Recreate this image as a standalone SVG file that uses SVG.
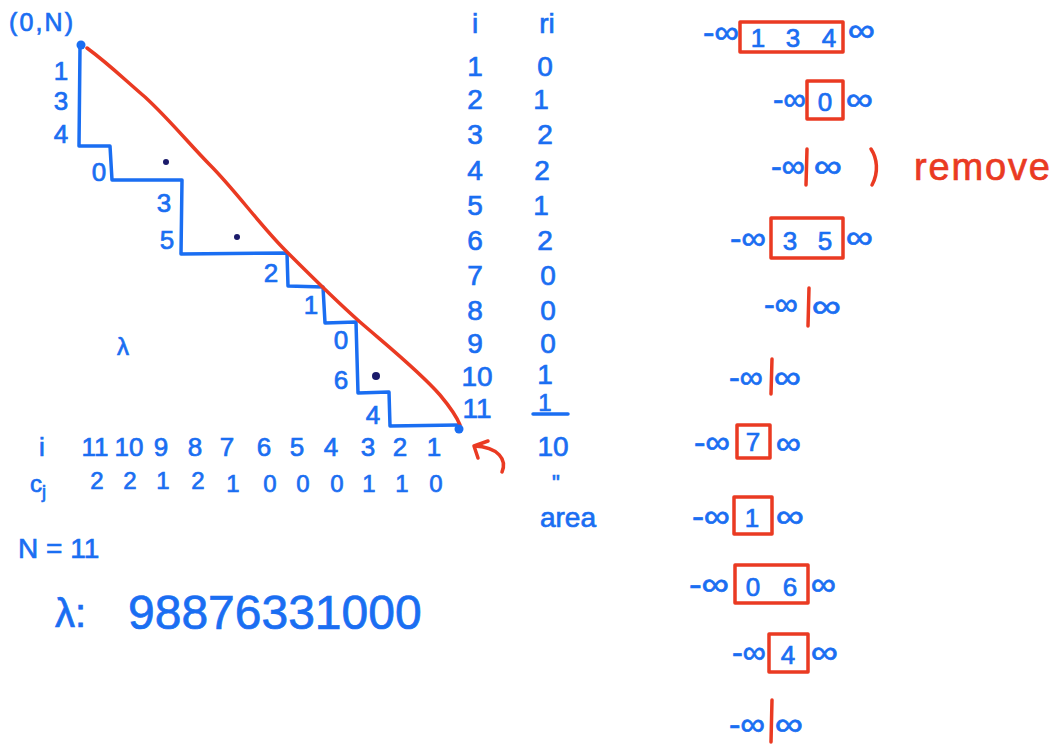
<svg xmlns="http://www.w3.org/2000/svg" width="1056" height="744" viewBox="0 0 1056 744">
<style>
.b{fill:#1a6ef2;stroke:#1a6ef2;stroke-width:0.7;font-family:"Liberation Sans","DejaVu Sans",sans-serif;}
.r{fill:#ea3a22;stroke:#ea3a22;stroke-width:0.7;font-family:"Liberation Sans","DejaVu Sans",sans-serif;}
.m{text-anchor:middle;}
.s{fill:none;stroke:#1a6ef2;stroke-width:3.5;stroke-linecap:round;stroke-linejoin:round;}
.rs{fill:none;stroke:#ea3a22;stroke-width:3.5;stroke-linecap:round;stroke-linejoin:round;}
.f28{font-size:28px;}
.f26{font-size:26px;}
.f24{font-size:24px;}
.inf{font-size:32px;}
</style>
<rect width="1056" height="744" fill="#ffffff"/>

<g id="connectors">
  <path id="staircase" class="s" d="M80 47 L79 146 L110 146 L112 180 L182 180 L181 254 L287 253 L288 286 L323 287 L325 323 L356 322 L358 393 L389 392 L390 426 L458 425"/>
  <path id="diagonal" class="rs" d="M87 48 C110 65 125 80 145 97 C170 120 190 145 210 165 C235 190 260 225 285 250 C310 275 335 300 360 322 C390 348 420 372 440 395 C450 407 456 415 460 425"/>
  <path id="return-arrow" class="rs" d="M502 472 C507 460 499 447 474 446 M474 446 L488 441 M474 446 L478 458"/>
</g>

<g id="corner-points">
  <circle cx="81" cy="45" r="4.5" fill="#1a6ef2"/>
  <circle cx="459" cy="429" r="4.5" fill="#1a6ef2"/>
  <text class="b" font-size="25" x="9" y="31" textLength="64">(0,N)</text>
</g>

<g id="staircase-labels" class="b f26 m">
  <text x="61" y="80">1</text>
  <text x="61" y="110">3</text>
  <text x="61" y="143">4</text>
  <text x="99" y="181">0</text>
  <text x="164" y="212">3</text>
  <text x="167" y="249">5</text>
  <text x="271" y="282">2</text>
  <text x="311" y="314">1</text>
  <text x="341" y="349">0</text>
  <text x="341" y="389">6</text>
  <text x="373" y="424">4</text>
</g>

<g id="dots" fill="#1b1b6b">
  <circle cx="166" cy="162" r="3"/>
  <circle cx="237" cy="237" r="3"/>
  <circle cx="376" cy="376" r="4"/>
</g>

<g id="lambda-mark">
  <text class="b f24" x="117" y="355">λ</text>
</g>

<g id="i-column" class="b f28 m">
  <text x="475" y="33">i</text>
  <text x="475" y="76">1</text>
  <text x="475" y="109">2</text>
  <text x="475" y="144">3</text>
  <text x="475" y="180">4</text>
  <text x="475" y="215">5</text>
  <text x="475" y="250">6</text>
  <text x="475" y="285">7</text>
  <text x="475" y="320">8</text>
  <text x="475" y="353">9</text>
  <text x="477" y="386">10</text>
  <text x="477" y="418">11</text>
</g>

<g id="ri-column" class="b f28 m">
  <text x="547" y="33">ri</text>
  <text x="545" y="76">0</text>
  <text x="541" y="109">1</text>
  <text x="545" y="144">2</text>
  <text x="542" y="180">2</text>
  <text x="541" y="215">1</text>
  <text x="545" y="250">2</text>
  <text x="548" y="285">0</text>
  <text x="548" y="320">0</text>
  <text x="548" y="353">0</text>
  <text x="545" y="384">1</text>
  <text x="545" y="411" font-size="24">1</text>
  <line x1="533" y1="414" x2="568" y2="414" class="s"/>
  <text x="553" y="456">10</text>
  <text x="556" y="490" font-size="22">"</text>
  <text x="568" y="527">area</text>
</g>

<g id="i-row" class="b f26 m">
  <text x="42" y="456">i</text>
  <text x="95" y="456">11</text>
  <text x="129" y="456">10</text>
  <text x="161" y="456">9</text>
  <text x="195" y="456">8</text>
  <text x="227" y="456">7</text>
  <text x="264" y="456">6</text>
  <text x="297" y="456">5</text>
  <text x="331" y="456">4</text>
  <text x="368" y="456">3</text>
  <text x="400" y="456">2</text>
  <text x="434" y="456">1</text>
</g>

<g id="cj-row" class="b f24 m">
  <text x="38" y="492">c<tspan font-size="18" dy="6">j</tspan></text>
  <text x="97" y="489">2</text>
  <text x="130" y="489">2</text>
  <text x="163" y="489">1</text>
  <text x="198" y="489">2</text>
  <text x="233" y="492">1</text>
  <text x="270" y="492">0</text>
  <text x="303" y="492">0</text>
  <text x="337" y="492">0</text>
  <text x="369" y="492">1</text>
  <text x="402" y="492">1</text>
  <text x="436" y="492">0</text>
</g>

<g id="n-value">
  <text class="b f28" x="18" y="558">N = 11</text>
</g>

<g id="lambda-value">
  <text class="b" font-size="40" x="55" y="627">λ:</text>
  <text class="b" font-size="48" x="128" y="629">98876331000</text>
</g>

<g id="row1" class="f26">
  <text class="b inf" x="703" y="43" textLength="36" lengthAdjust="spacingAndGlyphs">-∞</text>
  <rect x="740" y="22" width="103" height="30" class="rs"/>
  <text class="b m" x="758" y="47">1</text>
  <text class="b m" x="793" y="47">3</text>
  <text class="b m" x="829" y="47">4</text>
  <text class="b inf" x="848" y="41" textLength="27" lengthAdjust="spacingAndGlyphs">∞</text>
</g>

<g id="row2" class="f26">
  <text class="b inf" x="773" y="110" textLength="33" lengthAdjust="spacingAndGlyphs">-∞</text>
  <rect x="807" y="81" width="36" height="38" class="rs"/>
  <text class="b m" x="825" y="111">0</text>
  <text class="b inf" x="846" y="110" textLength="27" lengthAdjust="spacingAndGlyphs">∞</text>
</g>

<g id="row3" class="f26">
  <text class="b inf" x="771" y="177" textLength="34" lengthAdjust="spacingAndGlyphs">-∞</text>
  <line x1="807" y1="149" x2="806" y2="185" class="rs"/>
  <text class="b inf" x="814" y="177" textLength="28" lengthAdjust="spacingAndGlyphs">∞</text>
  <path d="M871 149 C877 158 879 172 872 185" class="rs"/>
  <text class="r" font-size="38" x="914" y="180" textLength="136">remove</text>
</g>

<g id="row4" class="f26">
  <text class="b inf" x="730" y="249" textLength="36" lengthAdjust="spacingAndGlyphs">-∞</text>
  <rect x="771" y="218" width="72" height="40" class="rs"/>
  <text class="b m" x="790" y="250">3</text>
  <text class="b m" x="825" y="250">5</text>
  <text class="b inf" x="846" y="248" textLength="27" lengthAdjust="spacingAndGlyphs">∞</text>
</g>

<g id="row5" class="f26">
  <text class="b inf" x="764" y="315" textLength="34" lengthAdjust="spacingAndGlyphs">-∞</text>
  <line x1="809" y1="288" x2="808" y2="326" class="rs"/>
  <text class="b inf" x="812" y="317" textLength="29" lengthAdjust="spacingAndGlyphs">∞</text>
</g>

<g id="row6" class="f26">
  <text class="b inf" x="729" y="388" textLength="34" lengthAdjust="spacingAndGlyphs">-∞</text>
  <line x1="772" y1="359" x2="771" y2="394" class="rs"/>
  <text class="b inf" x="774" y="388" textLength="27" lengthAdjust="spacingAndGlyphs">∞</text>
</g>

<g id="row7" class="f26">
  <text class="b inf" x="694" y="453" textLength="36" lengthAdjust="spacingAndGlyphs">-∞</text>
  <rect x="737" y="425" width="33" height="33" class="rs"/>
  <text class="b m" x="753" y="451">7</text>
  <text class="b inf" x="776" y="454" textLength="25" lengthAdjust="spacingAndGlyphs">∞</text>
</g>

<g id="row8" class="f26">
  <text class="b inf" x="692" y="527" textLength="38" lengthAdjust="spacingAndGlyphs">-∞</text>
  <rect x="734" y="497" width="38" height="37" class="rs"/>
  <text class="b m" x="752" y="527">1</text>
  <text class="b inf" x="776" y="527" textLength="28" lengthAdjust="spacingAndGlyphs">∞</text>
</g>

<g id="row9" class="f26">
  <text class="b inf" x="689" y="595" textLength="40" lengthAdjust="spacingAndGlyphs">-∞</text>
  <rect x="735" y="565" width="73" height="38" class="rs"/>
  <text class="b m" x="753" y="596">0</text>
  <text class="b m" x="790" y="596">6</text>
  <text class="b inf" x="811" y="595" textLength="25" lengthAdjust="spacingAndGlyphs">∞</text>
</g>

<g id="row10" class="f26">
  <text class="b inf" x="732" y="663" textLength="34" lengthAdjust="spacingAndGlyphs">-∞</text>
  <rect x="769" y="634" width="39" height="38" class="rs"/>
  <text class="b m" x="788" y="664">4</text>
  <text class="b inf" x="811" y="663" textLength="27" lengthAdjust="spacingAndGlyphs">∞</text>
</g>

<g id="row11" class="f26">
  <text class="b inf" x="729" y="735" textLength="36" lengthAdjust="spacingAndGlyphs">-∞</text>
  <line x1="772" y1="700" x2="771" y2="742" class="rs"/>
  <text class="b inf" x="775" y="735" textLength="28" lengthAdjust="spacingAndGlyphs">∞</text>
</g>
</svg>
